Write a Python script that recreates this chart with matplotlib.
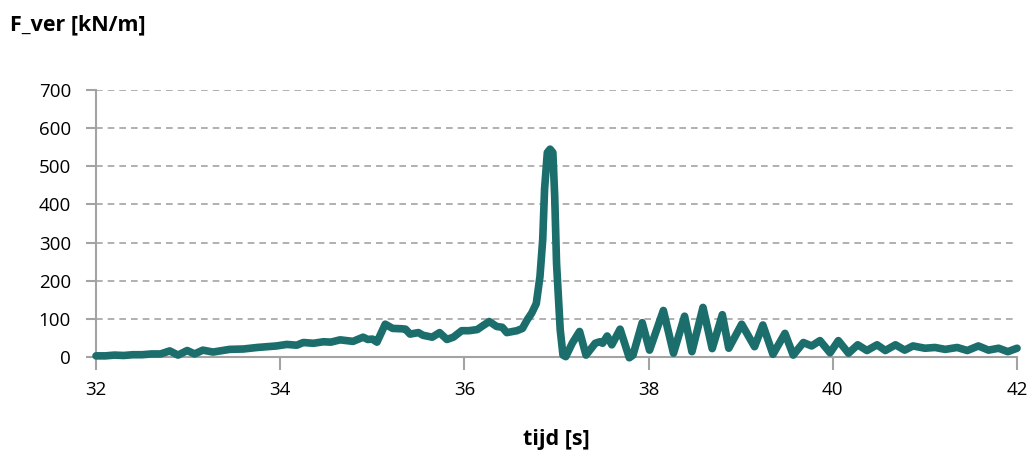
import matplotlib
matplotlib.use("Agg")
import matplotlib.pyplot as plt

# Vertical force on the structure over time
tijd = [32.0, 32.1, 32.2, 32.3, 32.4, 32.5, 32.6, 32.7, 32.8, 32.89, 32.99,
        33.07, 33.16, 33.27, 33.45, 33.6, 33.75, 33.96, 34.07, 34.18, 34.25,
        34.36, 34.47, 34.55, 34.65, 34.79, 34.9, 34.95, 35.0, 35.05, 35.14,
        35.22, 35.32, 35.36, 35.41, 35.5, 35.55, 35.65, 35.73, 35.81, 35.88,
        35.97, 36.05, 36.14, 36.2, 36.27, 36.35, 36.41, 36.46, 36.57, 36.63,
        36.68, 36.73, 36.78, 36.82, 36.85, 36.87, 36.9, 36.93, 36.96, 36.98,
        37.0, 37.04, 37.07, 37.1, 37.17, 37.25, 37.32, 37.42, 37.47, 37.5,
        37.55, 37.6, 37.69, 37.79, 37.83, 37.93, 38.01, 38.16, 38.27, 38.39,
        38.47, 38.59, 38.69, 38.8, 38.87, 39.01, 39.15, 39.24, 39.35, 39.48,
        39.57, 39.68, 39.77, 39.86, 39.97, 40.06, 40.17, 40.27, 40.37, 40.48,
        40.57, 40.68, 40.78, 40.87, 41.0, 41.11, 41.22, 41.35, 41.46, 41.58,
        41.69, 41.8, 41.9, 42.0]
f_ver = [3, 3, 5, 4, 6, 6, 8, 8, 16, 5, 17,
         8, 18, 13, 20, 21, 25, 29, 33, 31, 38,
         36, 40, 39, 45, 41, 52, 46, 47, 39, 86,
         75, 74, 73, 60, 64, 57, 52, 64, 46, 52,
         69, 69, 72, 82, 93, 80, 78, 64, 69, 75,
         97, 115, 140, 211, 308, 440, 536, 545, 536, 422,
         246, 71, 5, 1, 36, 67, 5, 36, 40, 36,
         55, 32, 73, -2, 5, 90, 18, 122, 10, 107,
         14, 130, 22, 111, 23, 86, 27, 84, 7, 62,
         5, 38, 29, 43, 11, 43, 10, 32, 17, 32,
         17, 32, 18, 29, 23, 25, 20, 25, 17, 29,
         18, 23, 14, 23]

x_ticks = [32, 34, 36, 38, 40, 42]
y_ticks = [0, 100, 200, 300, 400, 500, 600, 700]

plt.rcParams["font.family"] = ["Open Sans", "DejaVu Sans"]
grey = "#a3a3a3"

fig = plt.figure(figsize=(10.36, 4.59), dpi=100)
ax = fig.add_axes([0.0927, 0.2222, 0.889, 0.5817])

ax.plot(tijd, f_ver, color="#1b6e6c", linewidth=5.5,
        solid_joinstyle="round", solid_capstyle="round", zorder=3,
        clip_on=False)

ax.set_xlim(32, 42)
ax.set_ylim(0, 700)
ax.set_xticks(x_ticks)
ax.set_yticks(y_ticks)
ax.yaxis.grid(True, color=grey, linestyle=(0, (4, 3)), linewidth=1.2)
ax.set_axisbelow(True)

for side in ["top", "right"]:
    ax.spines[side].set_visible(False)
for side in ["left", "bottom"]:
    ax.spines[side].set_color(grey)
    ax.spines[side].set_linewidth(1.5)

ax.tick_params(axis="x", length=9, width=1.5, color=grey, pad=8,
               labelsize=13.5, labelcolor="black")
ax.tick_params(axis="y", length=7, width=1.5, color=grey, pad=11,
               labelsize=13.5, labelcolor="black")

ax.set_xlabel("tijd [s]", fontsize=15.5, fontweight="bold", labelpad=22)
fig.text(0.01, 0.945, "F_ver [kN/m]", fontsize=15.5, fontweight="bold",
         ha="left", va="center")

fig.savefig("out.png", dpi=100)
